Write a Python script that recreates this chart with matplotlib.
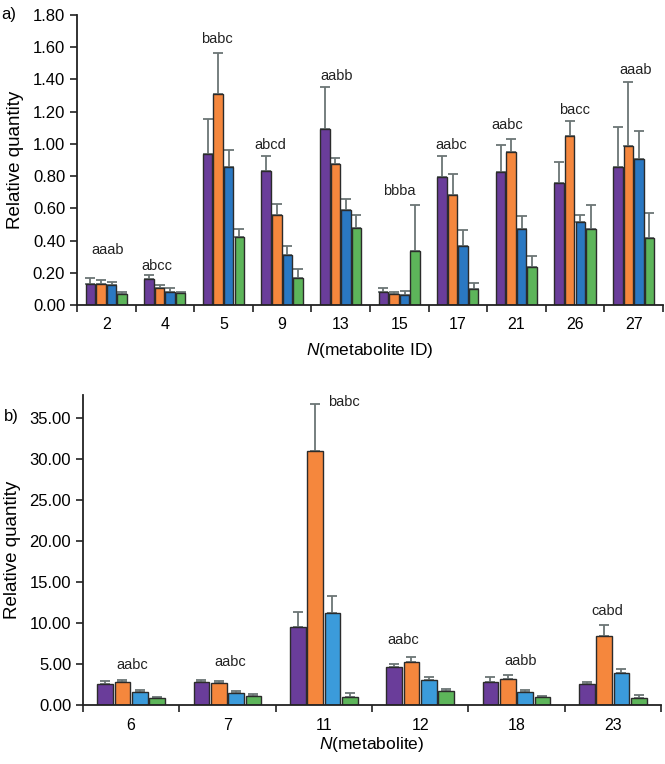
import numpy as np
import matplotlib
matplotlib.use('Agg')
import matplotlib.pyplot as plt
from matplotlib.ticker import FixedLocator, FormatStrFormatter

plt.rcParams['font.family'] = ['Liberation Sans', 'DejaVu Sans']
plt.rcParams['mathtext.fontset'] = 'custom'
plt.rcParams['mathtext.it'] = 'Liberation Sans:italic'
plt.rcParams['mathtext.rm'] = 'Liberation Sans'

# panel a data
ids_a = ['2', '4', '5', '9', '13', '15', '17', '21', '26', '27']
mean_a = np.array([
    [0.130, 0.128, 0.124, 0.068],
    [0.160, 0.108, 0.081, 0.072],
    [0.938, 1.308, 0.855, 0.420],
    [0.832, 0.559, 0.308, 0.166],
    [1.093, 0.876, 0.590, 0.480],
    [0.079, 0.068, 0.064, 0.337],
    [0.795, 0.683, 0.366, 0.101],
    [0.828, 0.948, 0.470, 0.234],
    [0.758, 1.050, 0.518, 0.474],
    [0.857, 0.988, 0.905, 0.414],
])
sd_a = np.array([
    [0.035, 0.027, 0.021, 0.015],
    [0.024, 0.016, 0.022, 0.011],
    [0.217, 0.257, 0.105, 0.052],
    [0.093, 0.066, 0.060, 0.058],
    [0.257, 0.034, 0.066, 0.079],
    [0.027, 0.013, 0.025, 0.286],
    [0.128, 0.128, 0.102, 0.038],
    [0.164, 0.081, 0.085, 0.072],
    [0.130, 0.091, 0.041, 0.145],
    [0.249, 0.397, 0.176, 0.155],
])
letters_a = ['aaab', 'abcc', 'babc', 'abcd', 'aabb', 'bbba', 'aabc', 'aabc', 'bacc', 'aaab']
letter_y_a = [0.34, 0.242, 1.65, 0.99, 1.42, 0.71, 0.99, 1.12, 1.21, 1.46]
letter_dx_a = [0.02, -0.14, -0.11, -0.2, -0.07, 0.0, -0.12, -0.15, 0.0, 0.03]

# panel b data
ids_b = ['6', '7', '11', '12', '18', '23']
mean_b = np.array([
    [2.56, 2.77, 1.55, 0.81],
    [2.85, 2.69, 1.42, 1.10],
    [9.56, 30.93, 11.27, 1.02],
    [4.64, 5.25, 3.05, 1.67],
    [2.81, 3.17, 1.59, 0.98],
    [2.60, 8.42, 3.87, 0.85],
])
sd_b = np.array([
    [0.37, 0.28, 0.28, 0.21],
    [0.20, 0.28, 0.29, 0.20],
    [1.74, 5.82, 2.08, 0.48],
    [0.36, 0.61, 0.41, 0.28],
    [0.61, 0.45, 0.24, 0.16],
    [0.25, 1.35, 0.57, 0.37],
])
letters_b = ['aabc', 'aabc', 'babc', 'aabc', 'aabb', 'cabd']
letter_y_b = [4.88, 5.3, 36.9, 7.9, 5.37, 11.5]
letter_dx_b = [0.01, 0.03, 0.21, -0.18, 0.04, -0.06]

colors_a = ['#6a3d9a', '#f5873d', '#2a78c2', '#5db55a']
colors_b = ['#6a3d9a', '#f5873d', '#3b9bdb', '#5db55a']


def draw_panel(ax, ids, means, sds, colors, letters, letter_y, letter_dx, ymax, ystep, xlabel, xpad):
    n = len(ids)
    x = np.arange(n)
    slot = 0.18
    for j in range(4):
        xs = x + (j - 1.5) * slot
        ax.bar(xs, means[:, j], width=slot * 0.9, color=colors[j],
               edgecolor='#2b2b2b', linewidth=1.0, zorder=2)
        ax.errorbar(xs, means[:, j], yerr=[np.zeros(n), sds[:, j]], fmt='none',
                    ecolor='#6b7575', elinewidth=1.3, capsize=3.5, capthick=1.3, zorder=1)
    for i in range(n):
        ax.text(x[i] + letter_dx[i], letter_y[i], letters[i], ha='center', va='center',
                fontsize=10.5, color='#222222')

    ax.set_xlim(-0.5, n - 0.5)
    ax.set_ylim(0, ymax)
    ax.set_xticks(x)
    ax.set_xticklabels(ids, fontsize=11.5)
    ax.xaxis.set_minor_locator(FixedLocator(np.arange(n + 1) - 0.5))
    ax.tick_params(axis='x', which='major', length=0, pad=9)
    ax.tick_params(axis='x', which='minor', length=5, width=1.2, direction='out', color='#222222')
    ax.set_yticks(np.arange(0, ymax + 1e-9, ystep))
    ax.yaxis.set_major_formatter(FormatStrFormatter('%.2f'))
    ax.tick_params(axis='y', length=5, width=1.2, direction='out', labelsize=12, color='#222222')
    for s in ['top', 'right']:
        ax.spines[s].set_visible(False)
    for s in ['left', 'bottom']:
        ax.spines[s].set_linewidth(1.3)
        ax.spines[s].set_color('#222222')
    ax.set_ylabel('Relative quantity', fontsize=13.5, labelpad=6)
    ax.set_xlabel(xlabel, fontsize=12.5, labelpad=xpad)


fig = plt.figure(figsize=(6.65, 7.64), dpi=100)
ax1 = fig.add_axes([0.1158, 0.6008, 0.881, 0.3796])
ax2 = fig.add_axes([0.1248, 0.0772, 0.869, 0.4058])

draw_panel(ax1, ids_a, mean_a, sd_a, colors_a, letters_a, letter_y_a, letter_dx_a,
           1.8, 0.2, r'$\mathit{N}$(metabolite ID)', 6)
draw_panel(ax2, ids_b, mean_b, sd_b, colors_b, letters_b, letter_y_b, letter_dx_b,
           37.8, 5.0, r'$\mathit{N}$(metabolite)', 2)
ax2.set_yticks(np.arange(0, 35.1, 5))

fig.text(0.002, 1 - 15 / 764, 'a)', fontsize=12, va='center', ha='left')
fig.text(0.006, 1 - 417 / 764, 'b)', fontsize=12, va='center', ha='left')

fig.savefig('out.png', dpi=100)
